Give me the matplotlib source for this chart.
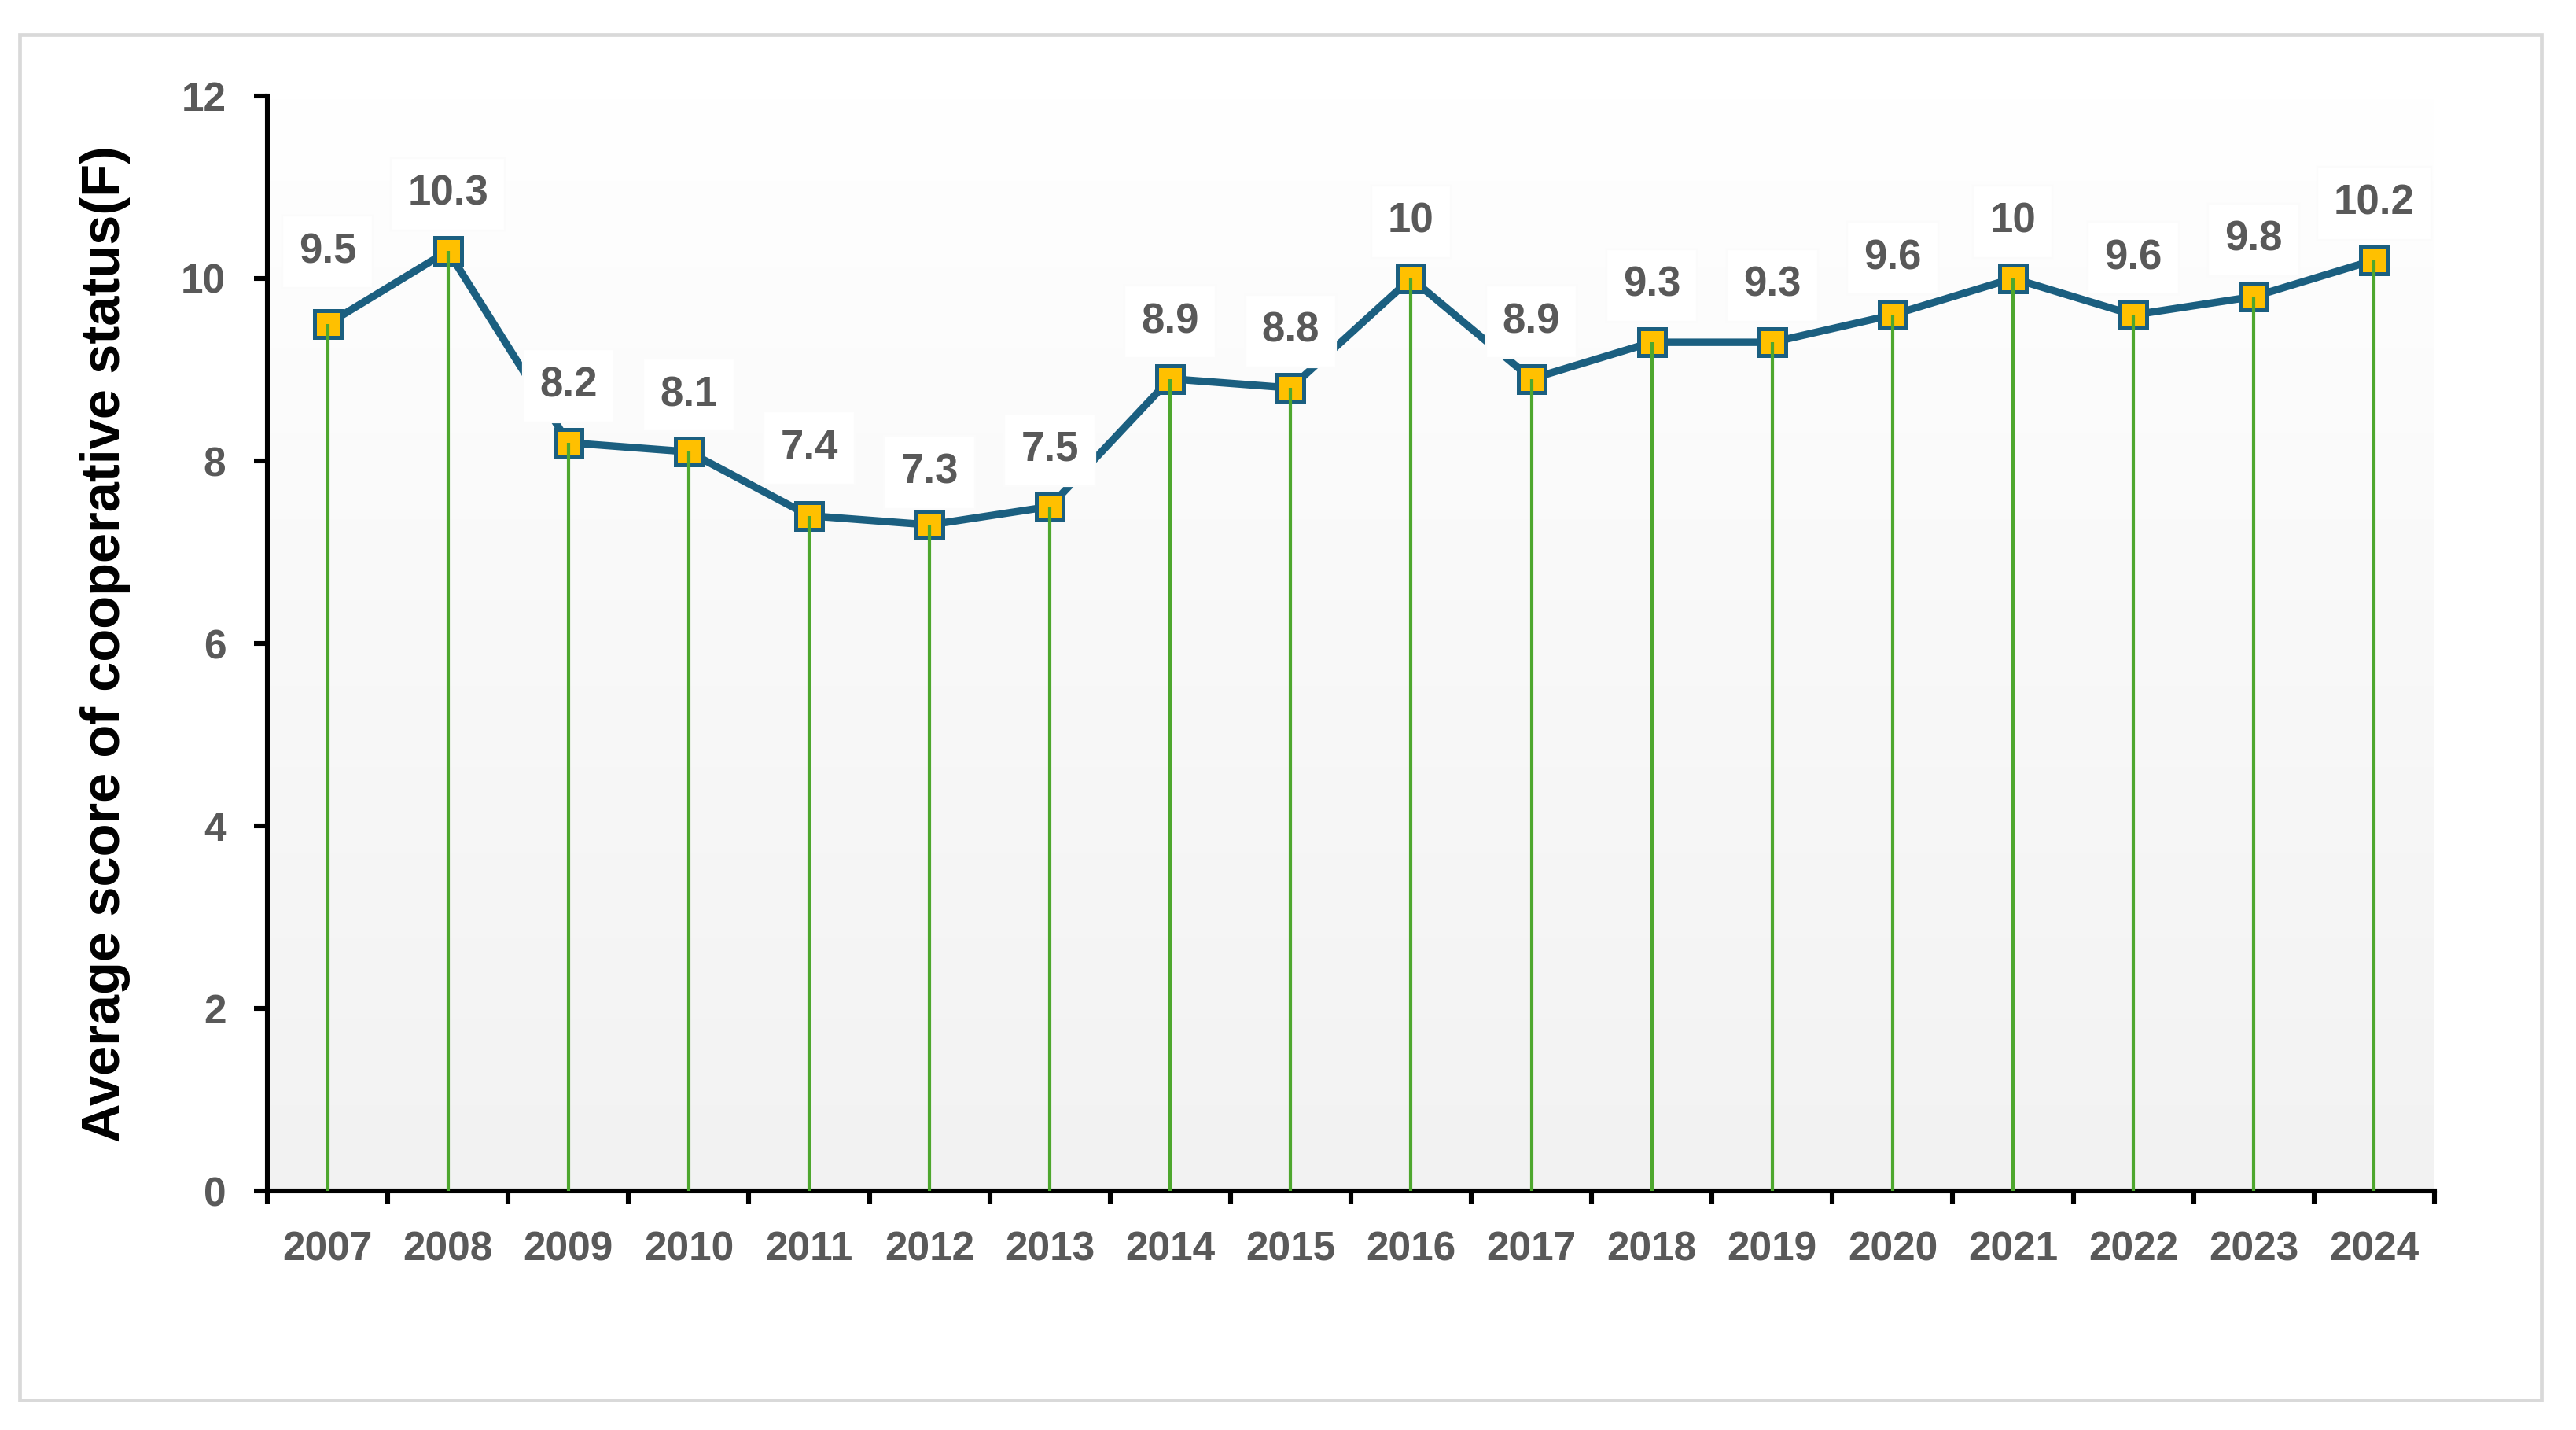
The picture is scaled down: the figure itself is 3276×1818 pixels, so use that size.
import matplotlib
matplotlib.use('Agg')
import matplotlib.pyplot as plt
from matplotlib.patches import Rectangle
import numpy as np

# Data
years = ['2007', '2008', '2009', '2010', '2011', '2012', '2013', '2014', '2015',
         '2016', '2017', '2018', '2019', '2020', '2021', '2022', '2023', '2024']
scores = [9.5, 10.3, 8.2, 8.1, 7.4, 7.3, 7.5, 8.9, 8.8,
          10, 8.9, 9.3, 9.3, 9.6, 10, 9.6, 9.8, 10.2]
yticks = [0, 2, 4, 6, 8, 10, 12]

font = 'Liberation Sans'
gray = '#595959'
line_col = '#1b5f80'
green = '#4ea72e'

fig = plt.figure(figsize=(16.38, 9.09), dpi=200)
# outer light-gray chart border
fig.patches.append(Rectangle((0.0077, 0.021), 0.979, 0.955, transform=fig.transFigure,
                             fill=False, edgecolor='#d9d9d9', linewidth=1.7))
ax = fig.add_axes([0.1038, 0.167, 0.8412, 0.766])

x = np.arange(len(years))
ax.set_xlim(-0.5, len(years) - 0.5)
ax.set_ylim(0, 12)

# light vertical gradient in the plot area
grad = np.linspace(1.0, 0.949, 256).reshape(-1, 1)
ax.imshow(np.dstack([grad, grad, grad]), extent=[-0.5, len(years) - 0.5, 0, 12],
          aspect='auto', zorder=0)

# line + markers
ax.plot(x, scores, color=line_col, linewidth=3.4, zorder=3)
ax.plot(x, scores, linestyle='none', marker='s', markersize=12,
        markerfacecolor='#ffc000', markeredgecolor=line_col, markeredgewidth=1.8, zorder=4)

# drop lines
ax.vlines(x, 0, scores, color=green, linewidth=1.5, zorder=5)

# data labels
extra = {0: 7, 4: 5, 5: -2}
for i, v in enumerate(scores):
    ax.annotate(f'{v:g}', (x[i], v), xytext=(0, 26 + extra.get(i, 0)),
                textcoords='offset points', ha='center', va='center',
                fontsize=19, fontweight='bold', color=gray, family=font, zorder=6,
                bbox=dict(boxstyle='square,pad=0.4', facecolor='white', edgecolor='#fbfbfb',
                          linewidth=0.8))

# axes styling
for s in ['top', 'right']:
    ax.spines[s].set_visible(False)
for s in ['left', 'bottom']:
    ax.spines[s].set_linewidth(2.2)
    ax.spines[s].set_color('black')

ax.set_yticks(yticks)
ax.set_yticklabels([str(t) for t in yticks])
ax.tick_params(axis='y', direction='out', length=6, width=2.2, pad=13,
               labelsize=18.5, labelcolor=gray)

# ticks between categories, labels at category centres
ax.set_xticks(np.arange(-0.5, len(years), 1))
ax.set_xticklabels([])
ax.tick_params(axis='x', which='major', direction='out', length=6, width=2.2)
ax.set_xticks(x, minor=True)
ax.set_xticklabels(years, minor=True)
ax.tick_params(axis='x', which='minor', length=0, pad=18, labelsize=18.5, labelcolor=gray)

for lbl in ax.get_yticklabels() + ax.get_xticklabels(minor=True):
    lbl.set_fontfamily(font)
    lbl.set_fontweight('bold')

ax.set_ylabel('Average score of cooperative status(F)', fontsize=24.7, fontweight='bold',
              family=font, color='black', labelpad=23)

fig.savefig('out.png', dpi=200)
